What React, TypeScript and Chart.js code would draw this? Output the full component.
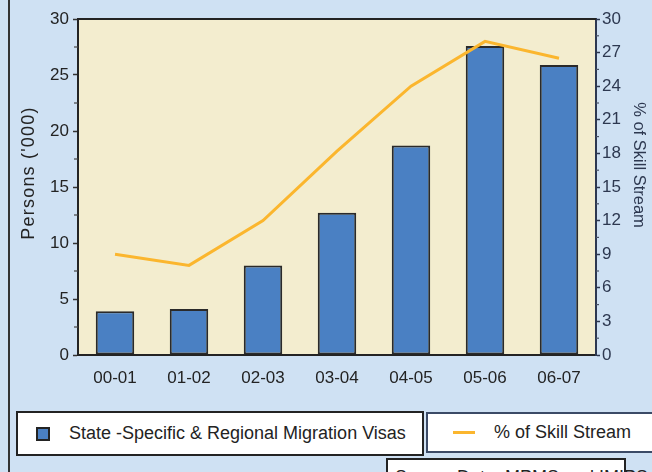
import React, { useEffect, useRef } from "react";
import { Chart, registerables } from "chart.js";

Chart.register(...registerables);

const categories = ["00-01", "01-02", "02-03", "03-04", "04-05", "05-06", "06-07"];
const visas = [3.9, 4.1, 8.0, 12.7, 18.7, 27.6, 25.9];
const skillPct = [9.0, 8.0, 12.0, 18.2, 24.0, 28.0, 26.5];
const leftTicksMinor = [2.5, 7.5, 12.5, 17.5, 22.5, 27.5];
const rightTicksMinor = [1.5, 4.5, 7.5, 10.5, 13.5, 16.5, 19.5, 22.5, 25.5, 28.5];

const seriesBarLabel = "State -Specific & Regional Migration Visas";
const seriesLineLabel = "% of Skill Stream";
const leftTitle = "Persons ('000)";
const rightTitle = "% of Skill Stream";
const sourceText = "Source Data: MPMS and IMIPS";

const FONT = "'Liberation Sans', Arial, Helvetica, sans-serif";
const BG = "#cfe1f3";
const PLOT_BG = "#f3edcf";
const BAR = "#4a80c3";
const ORANGE = "#fbb62e";
const DARK = "#232323";
const SLATE = "#2d3850";

export default function App() {
  const ref = useRef<HTMLCanvasElement>(null);

  useEffect(() => {
    if (!ref.current) return;
    const plotPlugin = {
      id: "plotDeco",
      beforeDraw(chart: any) {
        const { ctx, chartArea: a } = chart;
        ctx.save();
        ctx.fillStyle = PLOT_BG;
        ctx.fillRect(a.left, a.top, a.right - a.left, a.bottom - a.top);
        ctx.restore();
      },
      afterDraw(chart: any) {
        const { ctx, chartArea: a, scales } = chart;
        ctx.save();
        // top border
        ctx.strokeStyle = DARK;
        ctx.lineWidth = 2;
        ctx.beginPath();
        ctx.moveTo(a.left - 1, a.top);
        ctx.lineTo(a.right, a.top);
        ctx.stroke();
        // minor ticks
        ctx.lineWidth = 1.2;
        ctx.strokeStyle = "#444";
        leftTicksMinor.forEach((v) => {
          const y = scales.y.getPixelForValue(v);
          ctx.beginPath();
          ctx.moveTo(a.left - 4, y);
          ctx.lineTo(a.left, y);
          ctx.stroke();
        });
        ctx.strokeStyle = "#4a5468";
        rightTicksMinor.forEach((v) => {
          const y = scales.y1.getPixelForValue(v);
          ctx.beginPath();
          ctx.moveTo(a.right, y);
          ctx.lineTo(a.right + 3, y);
          ctx.stroke();
        });
        // axis titles
        ctx.textAlign = "center";
        ctx.textBaseline = "middle";
        ctx.fillStyle = DARK;
        ctx.save();
        ctx.font = `18px ${FONT}`;
        (ctx as any).letterSpacing = "1.2px";
        ctx.translate(29, 173);
        ctx.rotate(-Math.PI / 2);
        ctx.fillText(leftTitle, 0, 0);
        ctx.restore();
        ctx.fillStyle = SLATE;
        ctx.save();
        ctx.font = `16.5px ${FONT}`;
        (ctx as any).letterSpacing = "0px";
        ctx.translate(639, 165);
        ctx.rotate(Math.PI / 2);
        ctx.fillText(rightTitle, 0, 0);
        ctx.restore();
        ctx.restore();
      },
    };

    const chart = new Chart(ref.current, {
      type: "bar",
      data: {
        labels: categories,
        datasets: [
          {
            type: "line",
            label: seriesLineLabel,
            data: skillPct,
            yAxisID: "y1",
            borderColor: ORANGE,
            backgroundColor: ORANGE,
            borderWidth: 3,
            pointRadius: 0,
            tension: 0,
            order: 0,
          } as any,
          {
            type: "bar",
            label: seriesBarLabel,
            data: visas,
            yAxisID: "y",
            backgroundColor: BAR,
            borderColor: "#2a2a2a",
            borderWidth: 2,
            borderSkipped: false,
            barPercentage: 0.52,
            categoryPercentage: 1,
            order: 1,
          } as any,
        ],
      },
      options: {
        responsive: false,
        animation: false,
        layout: { padding: { top: 19, left: 0, right: 0, bottom: 0 } },
        plugins: {
          legend: { display: false },
          tooltip: { enabled: false },
        },
        scales: {
          x: {
            offset: true,
            afterFit: (s: any) => {
              s.height = 45;
            },
            grid: { display: false, drawTicks: false },
            border: { display: true, color: DARK, width: 2 },
            ticks: {
              font: { family: FONT, size: 17 },
              color: DARK,
              padding: 13,
              maxRotation: 0,
              autoSkip: false,
            },
          },
          y: {
            position: "left",
            min: 0,
            max: 30,
            afterFit: (s: any) => {
              s.width = 78;
            },
            grid: {
              drawOnChartArea: false,
              drawTicks: true,
              tickLength: 5,
              tickColor: "#333",
              tickWidth: 1.5,
            },
            border: { display: true, color: DARK, width: 2 },
            ticks: {
              stepSize: 5,
              font: { family: FONT, size: 17 },
              color: DARK,
              padding: 4,
            },
          },
          y1: {
            position: "right",
            min: 0,
            max: 30,
            afterFit: (s: any) => {
              s.width = 56;
            },
            grid: {
              drawOnChartArea: false,
              drawTicks: true,
              tickLength: 4,
              tickColor: SLATE,
              tickWidth: 1.5,
            },
            border: { display: true, color: SLATE, width: 2 },
            ticks: {
              stepSize: 3,
              font: { family: FONT, size: 17 },
              color: SLATE,
              padding: 2,
            },
          },
        },
      },
      plugins: [plotPlugin],
    } as any);
    return () => chart.destroy();
  }, []);

  return (
    <div
      style={{
        position: "absolute",
        left: 0,
        top: 0,
        width: 652,
        height: 472,
        background: BG,
        overflow: "hidden",
        fontFamily: FONT,
      }}
    >
      <canvas
        ref={ref}
        width={652}
        height={400}
        style={{ position: "absolute", left: 0, top: 0, width: 652, height: 400 }}
      />
      <div
        style={{
          position: "absolute",
          left: 8,
          top: 0,
          width: 2,
          height: 472,
          background: "#333",
        }}
      />
      <div
        style={{
          position: "absolute",
          left: 16,
          top: 411,
          width: 408,
          height: 45,
          boxSizing: "border-box",
          border: `2px solid ${DARK}`,
          background: "#fff",
        }}
      >
        <div
          style={{
            position: "absolute",
            left: 18,
            top: 14,
            width: 14,
            height: 14,
            boxSizing: "border-box",
            border: `2px solid ${DARK}`,
            background: BAR,
          }}
        />
        <div
          style={{
            position: "absolute",
            left: 51,
            top: 0,
            height: 41,
            lineHeight: "41px",
            fontSize: 18,
            color: DARK,
            whiteSpace: "nowrap",
          }}
        >
          {seriesBarLabel}
        </div>
      </div>
      <div
        style={{
          position: "absolute",
          left: 426,
          top: 412,
          width: 240,
          height: 41,
          boxSizing: "border-box",
          border: `2px solid #3b4a66`,
          background: "#fff",
        }}
      >
        <div
          style={{
            position: "absolute",
            left: 25,
            top: 17,
            width: 22,
            height: 3,
            background: ORANGE,
          }}
        />
        <div
          style={{
            position: "absolute",
            left: 66,
            top: 0,
            height: 37,
            lineHeight: "37px",
            fontSize: 18,
            color: DARK,
            whiteSpace: "nowrap",
          }}
        >
          {seriesLineLabel}
        </div>
      </div>
      <div
        style={{
          position: "absolute",
          left: 386,
          top: 458,
          width: 240,
          height: 30,
          boxSizing: "border-box",
          border: `2px solid ${DARK}`,
          background: "#fff",
          paddingTop: 7,
          paddingLeft: 7,
          fontSize: 18,
          lineHeight: "20px",
          color: DARK,
          whiteSpace: "nowrap",
        }}
      >
        {sourceText}
      </div>
    </div>
  );
}
